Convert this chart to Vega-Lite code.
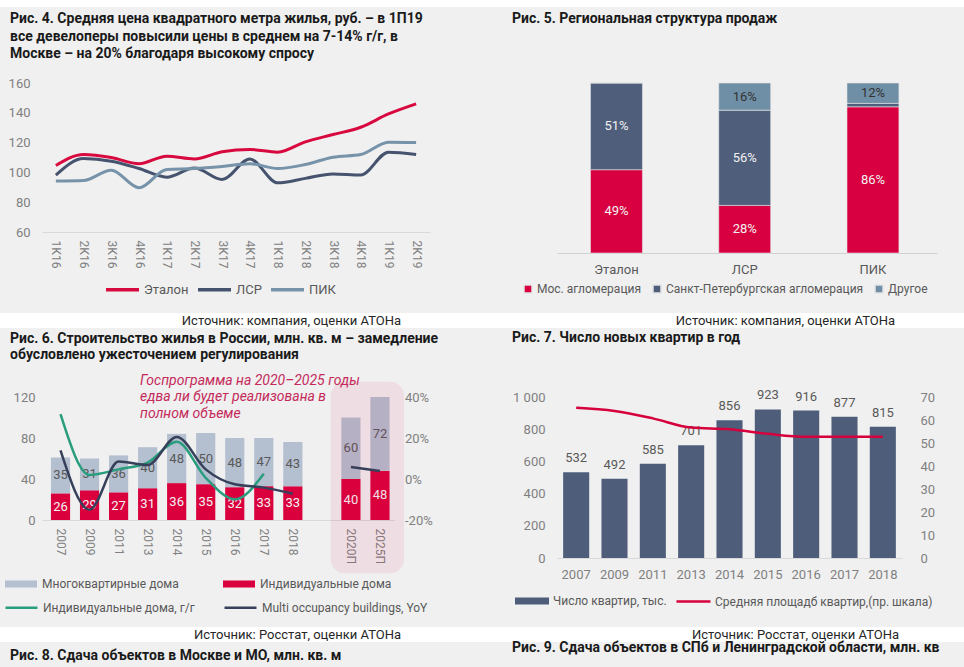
{
  "$schema": "https://vega.github.io/schema/vega-lite/v6.json",
  "background": "#f0f0f0",
  "padding": 0,
  "columns": 5,
  "align": "each",
  "bounds": "flush",
  "spacing": 0,
  "resolve": {"scale": {"fill": "independent", "stroke": "independent", "color": "independent"}},
  "config": {
    "view": {"stroke": null},
    "font": "Roboto",
    "axis": {"labelFont": "Roboto", "labelFontSize": 12, "labelColor": "#808080", "domain": false, "ticks": false, "grid": false, "labelOverlap": false},
    "legend": {"labelFont": "Roboto", "labelFontSize": 12, "labelColor": "#595959", "title": null, "labelLimit": 400},
    "title": {"font": "Roboto", "fontSize": 14, "fontWeight": "bold", "color": "#1a1a1a", "anchor": "start", "frame": "group"}
  },
  "concat": [
    {"width": 42, "height": 7, "view": {"fill": "#ffffff"}, "data": {"values": []}, "mark": "point", "encoding": {}},
    {"width": 388, "height": 7, "view": {"fill": "#ffffff"}, "data": {"values": []}, "mark": "point", "encoding": {}},
    {"width": 127, "height": 7, "view": {"fill": "#ffffff"}, "data": {"values": []}, "mark": "point", "encoding": {}},
    {"width": 380, "height": 7, "view": {"fill": "#ffffff"}, "data": {"values": []}, "mark": "point", "encoding": {}},
    {"width": 27, "height": 7, "view": {"fill": "#ffffff"}, "data": {"values": []}, "mark": "point", "encoding": {}},

    {"width": 1, "height": 75.5, "data": {"values": []}, "mark": "point", "encoding": {}},
    {"width": 1, "height": 1, "data": {"values": []}, "mark": "point", "encoding": {}},
    {"width": 1, "height": 1, "data": {"values": []}, "mark": "point", "encoding": {}},
    {"width": 1, "height": 1, "data": {"values": []}, "mark": "point", "encoding": {}},
    {"width": 1, "height": 1, "data": {"values": []}, "mark": "point", "encoding": {}},

    {"width": 42, "height": 170, "data": {"values": []}, "mark": "point", "encoding": {}},
    {
      "width": 388,
      "height": 149,
      "title": {"text": ["Рис. 4. Средняя цена квадратного метра жилья, руб. – в 1П19", "все девелоперы повысили цены в среднем на 7-14% г/г, в", "Москве – на 20% благодаря высокому спросу"], "dx": -32, "offset": 16, "lineHeight": 17.5},
      "data": {"values": [
        {"q": "1К16", "s": "Эталон", "v": 104.6}, {"q": "2К16", "s": "Эталон", "v": 112}, {"q": "3К16", "s": "Эталон", "v": 110}, {"q": "4К16", "s": "Эталон", "v": 105.8},
        {"q": "1К17", "s": "Эталон", "v": 110.9}, {"q": "2К17", "s": "Эталон", "v": 109}, {"q": "3К17", "s": "Эталон", "v": 113.8}, {"q": "4К17", "s": "Эталон", "v": 115.4},
        {"q": "1К18", "s": "Эталон", "v": 113.6}, {"q": "2К18", "s": "Эталон", "v": 120.5}, {"q": "3К18", "s": "Эталон", "v": 125.4}, {"q": "4К18", "s": "Эталон", "v": 130.3},
        {"q": "1К19", "s": "Эталон", "v": 139.2}, {"q": "2К19", "s": "Эталон", "v": 146},
        {"q": "1К16", "s": "ЛСР", "v": 98.2}, {"q": "2К16", "s": "ЛСР", "v": 109.3}, {"q": "3К16", "s": "ЛСР", "v": 107.5}, {"q": "4К16", "s": "ЛСР", "v": 102.6},
        {"q": "1К17", "s": "ЛСР", "v": 96.8}, {"q": "2К17", "s": "ЛСР", "v": 103}, {"q": "3К17", "s": "ЛСР", "v": 95.3}, {"q": "4К17", "s": "ЛСР", "v": 109},
        {"q": "1К18", "s": "ЛСР", "v": 93}, {"q": "2К18", "s": "ЛСР", "v": 96}, {"q": "3К18", "s": "ЛСР", "v": 99}, {"q": "4К18", "s": "ЛСР", "v": 98.2},
        {"q": "1К19", "s": "ЛСР", "v": 113.6}, {"q": "2К19", "s": "ЛСР", "v": 112},
        {"q": "1К16", "s": "ПИК", "v": 94.2}, {"q": "2К16", "s": "ПИК", "v": 94.6}, {"q": "3К16", "s": "ПИК", "v": 101.5}, {"q": "4К16", "s": "ПИК", "v": 89.7},
        {"q": "1К17", "s": "ПИК", "v": 102}, {"q": "2К17", "s": "ПИК", "v": 102.6}, {"q": "3К17", "s": "ПИК", "v": 104}, {"q": "4К17", "s": "ПИК", "v": 105.8},
        {"q": "1К18", "s": "ПИК", "v": 102.6}, {"q": "2К18", "s": "ПИК", "v": 105.3}, {"q": "3К18", "s": "ПИК", "v": 110.2}, {"q": "4К18", "s": "ПИК", "v": 112},
        {"q": "1К19", "s": "ПИК", "v": 120.3}, {"q": "2К19", "s": "ПИК", "v": 120}
      ]},
      "mark": {"type": "line", "interpolate": "monotone", "strokeWidth": 3},
      "encoding": {
        "x": {"field": "q", "type": "ordinal", "sort": null, "axis": {"title": null, "labelAngle": 90, "domain": true, "domainColor": "#d9d9d9", "labelPadding": 8, "labelFontSize": 12}},
        "y": {"field": "v", "type": "quantitative", "scale": {"domain": [60, 160], "nice": false, "zero": false}, "axis": {"title": null, "values": [60, 80, 100, 120, 140, 160], "labelPadding": 12, "labelFontSize": 13}},
        "stroke": {"field": "s", "type": "nominal", "scale": {"domain": ["Эталон", "ЛСР", "ПИК"], "range": ["#d8093f", "#45536e", "#7693aa"]}, "legend": {"orient": "none", "legendX": 62, "legendY": 188, "direction": "horizontal", "symbolType": "stroke", "symbolSize": 1089, "symbolStrokeWidth": 3.5, "columnPadding": 2, "labelOffset": 3, "labelFontSize": 13}},
        "order": {"value": null}
      }
    },
    {"width": 127, "height": 1, "data": {"values": []}, "mark": "point", "encoding": {}},
    {
      "width": 380,
      "height": 170,
      "title": {"text": "Рис. 5. Региональная структура продаж", "dx": -45, "offset": 51},
      "data": {"values": [
        {"c": "Эталон", "r": "Мос. агломерация", "v": 49}, {"c": "Эталон", "r": "Санкт-Петербургская агломерация", "v": 51}, {"c": "Эталон", "r": "Другое", "v": 0},
        {"c": "ЛСР", "r": "Мос. агломерация", "v": 28}, {"c": "ЛСР", "r": "Санкт-Петербургская агломерация", "v": 56}, {"c": "ЛСР", "r": "Другое", "v": 16},
        {"c": "ПИК", "r": "Мос. агломерация", "v": 86}, {"c": "ПИК", "r": "Санкт-Петербургская агломерация", "v": 2}, {"c": "ПИК", "r": "Другое", "v": 12}
      ]},
      "transform": [
        {"calculate": "indexof(['Мос. агломерация','Санкт-Петербургская агломерация','Другое'], datum.r)", "as": "o"},
        {"calculate": "datum.v >= 5 ? datum.v + '%' : ''", "as": "lbl"}
      ],
      "encoding": {
        "x": {"field": "c", "type": "nominal", "sort": null, "scale": {"paddingInner": 0.595, "paddingOuter": 0.279, "align": 0.468}, "axis": {"title": null, "labelAngle": 0, "domain": true, "domainColor": "#d0d0d0", "labelPadding": 10, "labelFontSize": 13, "labelColor": "#595959"}},
        "y": {"field": "v", "type": "quantitative", "stack": "zero", "scale": {"domain": [0, 100], "nice": false}, "axis": null},
        "order": {"field": "o", "type": "quantitative", "sort": "ascending"}
      },
      "layer": [
        {
          "mark": {"type": "bar", "stroke": "#e4e4e4", "strokeWidth": 0.6},
          "encoding": {
            "fill": {"field": "r", "type": "nominal", "scale": {"domain": ["Мос. агломерация", "Санкт-Петербургская агломерация", "Другое"], "range": ["#d80040", "#4e5e7b", "#6f8fa6"]}, "legend": {"orient": "none", "legendX": -35, "legendY": 200, "direction": "horizontal", "symbolType": "square", "symbolSize": 64, "columnPadding": 8, "labelOffset": 3, "labelFontSize": 12}}
          }
        },
        {
          "mark": {"type": "text", "fontSize": 13},
          "encoding": {
            "y": {"field": "v", "type": "quantitative", "stack": "zero", "bandPosition": 0.5},
            "detail": {"field": "r"},
            "text": {"field": "lbl"},
            "color": {"condition": {"test": "datum.r === 'Другое'", "value": "#333333"}, "value": "#f2f2f2"}
          }
        }
      ]
    },
    {"width": 27, "height": 1, "data": {"values": []}, "mark": "point", "encoding": {}},

    {"width": 1, "height": 59.5, "data": {"values": []}, "mark": "point", "encoding": {}},
    {"width": 1, "height": 1, "data": {"values": []}, "mark": "point", "encoding": {}},
    {"width": 1, "height": 1, "data": {"values": []}, "mark": "point", "encoding": {}},
    {"width": 1, "height": 1, "data": {"values": []}, "mark": "point", "encoding": {}},
    {"width": 1, "height": 1, "data": {"values": []}, "mark": "point", "encoding": {}},

    {"width": 42, "height": 15, "view": {"fill": "#ffffff"}, "data": {"values": []}, "mark": "point", "encoding": {}},
    {"width": 388, "height": 15, "view": {"fill": "#ffffff"}, "data": {"values": []}, "mark": "point", "encoding": {}, "title": {"text": "Источник: компания, оценки АТОНа", "anchor": "end", "dx": -29, "offset": -7.5, "dy": 13, "baseline": "middle", "fontWeight": "normal", "fontSize": 13, "color": "#262626"}},
    {"width": 127, "height": 15, "view": {"fill": "#ffffff"}, "data": {"values": []}, "mark": "point", "encoding": {}},
    {"width": 380, "height": 15, "view": {"fill": "#ffffff"}, "data": {"values": []}, "mark": "point", "encoding": {}, "title": {"text": "Источник: компания, оценки АТОНа", "anchor": "end", "dx": -42, "offset": -7.5, "dy": 13, "baseline": "middle", "fontWeight": "normal", "fontSize": 13, "color": "#262626"}},
    {"width": 27, "height": 15, "view": {"fill": "#ffffff"}, "data": {"values": []}, "mark": "point", "encoding": {}},

    {"width": 1, "height": 69, "data": {"values": []}, "mark": "point", "encoding": {}},
    {"width": 1, "height": 1, "data": {"values": []}, "mark": "point", "encoding": {}},
    {"width": 1, "height": 1, "data": {"values": []}, "mark": "point", "encoding": {}},
    {"width": 1, "height": 1, "data": {"values": []}, "mark": "point", "encoding": {}},
    {"width": 1, "height": 1, "data": {"values": []}, "mark": "point", "encoding": {}},

    {"width": 42, "height": 1, "data": {"values": []}, "mark": "point", "encoding": {}},
    {
      "width": 352.5,
      "height": 123,
      "title": {"text": ["Рис. 6. Строительство жилья в России, млн. кв. м – замедление", "обусловлено ужесточением регулирования"], "dx": -32, "offset": 12, "lineHeight": 16},
      "encoding": {
        "x": {"field": "cat", "type": "nominal", "scale": {"domain": ["2007", "2009", "2011", "2013", "2014", "2015", "2016", "2017", "2018", " ", "2020П", "2025П"], "paddingInner": 0.34, "paddingOuter": 0.239, "align": 0.643}, "axis": {"title": null, "labelAngle": 90, "domain": true, "domainColor": "#d9d9d9", "labelPadding": 8, "labelFontSize": 12}}
      },
      "layer": [
        {
          "layer": [
            {
              "data": {"values": [
                {"cat": "2007", "t": "Индивидуальные дома", "v": 26}, {"cat": "2007", "t": "Многоквартирные дома", "v": 35},
                {"cat": "2009", "t": "Индивидуальные дома", "v": 29}, {"cat": "2009", "t": "Многоквартирные дома", "v": 31},
                {"cat": "2011", "t": "Индивидуальные дома", "v": 27}, {"cat": "2011", "t": "Многоквартирные дома", "v": 36},
                {"cat": "2013", "t": "Индивидуальные дома", "v": 31}, {"cat": "2013", "t": "Многоквартирные дома", "v": 40},
                {"cat": "2014", "t": "Индивидуальные дома", "v": 36}, {"cat": "2014", "t": "Многоквартирные дома", "v": 48},
                {"cat": "2015", "t": "Индивидуальные дома", "v": 35}, {"cat": "2015", "t": "Многоквартирные дома", "v": 50},
                {"cat": "2016", "t": "Индивидуальные дома", "v": 32}, {"cat": "2016", "t": "Многоквартирные дома", "v": 48},
                {"cat": "2017", "t": "Индивидуальные дома", "v": 33}, {"cat": "2017", "t": "Многоквартирные дома", "v": 47},
                {"cat": "2018", "t": "Индивидуальные дома", "v": 33}, {"cat": "2018", "t": "Многоквартирные дома", "v": 43},
                {"cat": "2020П", "t": "Индивидуальные дома", "v": 40}, {"cat": "2020П", "t": "Многоквартирные дома", "v": 60},
                {"cat": "2025П", "t": "Индивидуальные дома", "v": 48}, {"cat": "2025П", "t": "Многоквартирные дома", "v": 72}
              ]},
              "layer": [
                {
                  "mark": {"type": "bar"},
                  "encoding": {
                    "y": {"field": "v", "type": "quantitative", "stack": "zero", "scale": {"domain": [0, 120], "nice": false}, "axis": {"title": null, "values": [0, 40, 80, 120], "labelPadding": 7, "labelFontSize": 13}},
                    "fill": {"field": "t", "type": "nominal", "scale": {"domain": ["Многоквартирные дома", "Индивидуальные дома"], "range": ["#b4bfd0", "#d9003d"]}, "legend": {"orient": "none", "legendX": -38, "legendY": 170, "direction": "horizontal", "symbolType": "M-1,-0.22H1V0.22H-1Z", "symbolSize": 1024, "columnPadding": 43, "labelOffset": 4}},
                    "order": {"field": "t", "type": "nominal", "sort": "ascending"}
                  }
                },
                {
                  "mark": {"type": "text", "fontSize": 13},
                  "encoding": {
                    "y": {"field": "v", "type": "quantitative", "stack": "zero", "bandPosition": 0.5},
                    "detail": {"field": "t"},
                    "order": {"field": "t", "type": "nominal", "sort": "ascending"},
                    "text": {"field": "v", "type": "quantitative"},
                    "color": {"condition": {"test": "datum.t === 'Индивидуальные дома'", "value": "#f4f4f4"}, "value": "#595959"}
                  }
                }
              ]
            },
            {
              "data": {"values": [{}]},
              "mark": {"type": "rect", "cornerRadius": 14, "fill": "#d6003c", "opacity": 0.08, "xOffset": -10.6, "x2Offset": 14.5},
              "encoding": {
                "x": {"datum": "2020П", "bandPosition": 0},
                "x2": {"datum": "2025П", "bandPosition": 1},
                "y": {"datum": 135},
                "y2": {"datum": -52}
              }
            },
            {
              "data": {"values": [{}]},
              "mark": {"type": "text", "align": "left", "baseline": "top", "fontStyle": "italic", "fontSize": 14, "color": "#c42a5a", "lineHeight": 16.5, "xOffset": 2},
              "encoding": {
                "x": {"datum": "2013", "bandPosition": 0},
                "y": {"datum": 142.5},
                "text": {"value": ["Госпрограмма на 2020–2025 годы", "едва ли будет реализована в", "полном объеме"]}
              }
            }
          ]
        },
        {
          "data": {"values": [
            {"cat": "2007", "s": "Индивидуальные дома, г/г", "seg": "a", "p": 31.6}, {"cat": "2009", "s": "Индивидуальные дома, г/г", "seg": "a", "p": 2},
            {"cat": "2011", "s": "Индивидуальные дома, г/г", "seg": "a", "p": 4.7}, {"cat": "2013", "s": "Индивидуальные дома, г/г", "seg": "a", "p": 8},
            {"cat": "2014", "s": "Индивидуальные дома, г/г", "seg": "a", "p": 18.2}, {"cat": "2015", "s": "Индивидуальные дома, г/г", "seg": "a", "p": 0.6},
            {"cat": "2016", "s": "Индивидуальные дома, г/г", "seg": "a", "p": -9.9}, {"cat": "2017", "s": "Индивидуальные дома, г/г", "seg": "a", "p": 2.6},
            {"cat": "2007", "s": "Multi occupancy buildings, YoY", "seg": "a", "p": 14}, {"cat": "2009", "s": "Multi occupancy buildings, YoY", "seg": "a", "p": -15},
            {"cat": "2011", "s": "Multi occupancy buildings, YoY", "seg": "a", "p": 8.5}, {"cat": "2013", "s": "Multi occupancy buildings, YoY", "seg": "a", "p": 6.8},
            {"cat": "2014", "s": "Multi occupancy buildings, YoY", "seg": "a", "p": 20.5}, {"cat": "2015", "s": "Multi occupancy buildings, YoY", "seg": "a", "p": 4.7},
            {"cat": "2016", "s": "Multi occupancy buildings, YoY", "seg": "a", "p": -2.6}, {"cat": "2017", "s": "Multi occupancy buildings, YoY", "seg": "a", "p": -4.2},
            {"cat": "2018", "s": "Multi occupancy buildings, YoY", "seg": "a", "p": -7.2},
            {"cat": "2020П", "s": "Multi occupancy buildings, YoY", "seg": "b", "p": 5.9}, {"cat": "2025П", "s": "Multi occupancy buildings, YoY", "seg": "b", "p": 3.9}
          ]},
          "mark": {"type": "line", "interpolate": "monotone", "strokeWidth": 2.5},
          "encoding": {
            "y": {"field": "p", "type": "quantitative", "scale": {"domain": [-20, 40], "nice": false, "zero": false}, "axis": {"orient": "right", "title": null, "values": [-20, 0, 20, 40], "labelExpr": "datum.value + '%'", "labelPadding": 10, "labelFontSize": 13}},
            "stroke": {"field": "s", "type": "nominal", "scale": {"domain": ["Индивидуальные дома, г/г", "Multi occupancy buildings, YoY"], "range": ["#2a9d7e", "#37405a"]}, "legend": {"orient": "none", "legendX": -38, "legendY": 193, "direction": "horizontal", "symbolType": "stroke", "symbolSize": 1024, "symbolStrokeWidth": 2.5, "columnPadding": 24, "labelOffset": 4}},
            "detail": {"field": "seg"},
            "order": {"value": null}
          }
        }
      ],
      "resolve": {"scale": {"y": "independent"}}
    },
    {"width": 127, "height": 1, "data": {"values": []}, "mark": "point", "encoding": {}},
    {
      "width": 345,
      "height": 161,
      "title": {"text": "Рис. 7. Число новых квартир в год", "dx": -45, "offset": 44},
      "data": {"values": [
        {"y": "2007", "n": 532, "a": 65.3}, {"y": "2009", "n": 492, "a": 63.9}, {"y": "2011", "n": 585, "a": 60.7},
        {"y": "2013", "n": 701, "a": 56.7}, {"y": "2014", "n": 856, "a": 56}, {"y": "2015", "n": 923, "a": 54},
        {"y": "2016", "n": 916, "a": 52.7}, {"y": "2017", "n": 877, "a": 52.7}, {"y": "2018", "n": 815, "a": 52.7}
      ]},
      "encoding": {
        "x": {"field": "y", "type": "nominal", "scale": {"paddingInner": 0.32, "paddingOuter": 0.16}, "axis": {"title": null, "labelAngle": 0, "domain": true, "domainColor": "#d9d9d9", "labelPadding": 10, "labelFontSize": 13}},
        "y": {"field": "n", "type": "quantitative", "scale": {"domain": [0, 1000], "nice": false}, "axis": {"title": null, "tickCount": 5, "labelExpr": "datum.value == 1000 ? '1 000' : '' + datum.value", "labelPadding": 12, "labelFontSize": 13, "labelOverlap": false, "labelSeparation": 0}}
      },
      "layer": [
        {
          "layer": [
            {
              "mark": {"type": "bar"},
              "encoding": {
                "fill": {"datum": "Число квартир, тыс.", "type": "nominal", "scale": {"range": ["#4e5e7a"]}, "legend": {"orient": "none", "legendX": -43, "legendY": 186, "symbolType": "M-1,-0.2H1V0.2H-1Z", "symbolSize": 1156, "labelOffset": 3}}
              }
            },
            {
              "mark": {"type": "text", "dy": -14, "fontSize": 13, "color": "#595959"},
              "encoding": {
                "text": {"field": "n", "type": "quantitative"}
              }
            }
          ]
        },
        {
          "mark": {"type": "line", "interpolate": "monotone", "strokeWidth": 2.5},
          "encoding": {
            "y": {"field": "a", "type": "quantitative", "scale": {"domain": [0, 70], "nice": false}, "axis": {"orient": "right", "title": null, "values": [0, 10, 20, 30, 40, 50, 60, 70], "labelPadding": 18, "labelFontSize": 13}},
            "stroke": {"datum": "Средняя площадб квартир,(пр. шкала)", "type": "nominal", "scale": {"range": ["#d6003c"]}, "legend": {"orient": "none", "legendX": 118, "legendY": 186, "symbolType": "stroke", "symbolSize": 1156, "symbolStrokeWidth": 2.5, "labelOffset": 3}},
            "order": {"value": null}
          }
        }
      ],
      "resolve": {"scale": {"y": "independent"}}
    },
    {"width": 27, "height": 1, "data": {"values": []}, "mark": "point", "encoding": {}},

    {"width": 1, "height": 69, "data": {"values": []}, "mark": "point", "encoding": {}},
    {"width": 1, "height": 1, "data": {"values": []}, "mark": "point", "encoding": {}},
    {"width": 1, "height": 1, "data": {"values": []}, "mark": "point", "encoding": {}},
    {"width": 1, "height": 1, "data": {"values": []}, "mark": "point", "encoding": {}},
    {"width": 1, "height": 1, "data": {"values": []}, "mark": "point", "encoding": {}},

    {"width": 42, "height": 15, "view": {"fill": "#ffffff"}, "data": {"values": []}, "mark": "point", "encoding": {}},
    {"width": 388, "height": 15, "view": {"fill": "#ffffff"}, "data": {"values": []}, "mark": "point", "encoding": {}, "title": {"text": "Источник: Росстат, оценки АТОНа", "anchor": "end", "dx": -29, "offset": -7.5, "dy": 13, "baseline": "middle", "fontWeight": "normal", "fontSize": 13, "color": "#262626"}},
    {"width": 127, "height": 15, "view": {"fill": "#ffffff"}, "data": {"values": []}, "mark": "point", "encoding": {}},
    {"width": 380, "height": 15, "view": {"fill": "#ffffff"}, "data": {"values": []}, "mark": "point", "encoding": {}, "title": {"text": "Источник: Росстат, оценки АТОНа", "anchor": "end", "dx": -38, "offset": -7.5, "dy": 13, "baseline": "middle", "fontWeight": "normal", "fontSize": 13, "color": "#262626"}},
    {"width": 27, "height": 15, "view": {"fill": "#ffffff"}, "data": {"values": []}, "mark": "point", "encoding": {}},

    {"width": 42, "height": 26, "data": {"values": []}, "mark": "point", "encoding": {}, "title": {"text": "Рис. 8. Сдача объектов в Москве и МО, млн. кв. м", "dx": 10, "offset": -16, "dy": 16, "baseline": "alphabetic"}},
    {"width": 1, "height": 1, "data": {"values": []}, "mark": "point", "encoding": {}},
    {"width": 1, "height": 1, "data": {"values": []}, "mark": "point", "encoding": {}},
    {"width": 1, "height": 26, "data": {"values": []}, "mark": "point", "encoding": {}, "title": {"text": "Рис. 9. Сдача объектов в СПб и Ленинградской области, млн. кв", "dx": -45, "offset": -12, "dy": 12, "baseline": "alphabetic"}},
    {"width": 1, "height": 1, "data": {"values": []}, "mark": "point", "encoding": {}}
  ]
}
